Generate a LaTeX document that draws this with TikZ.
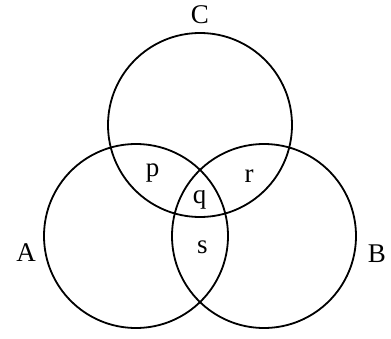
\documentclass[tikz,border=0pt]{standalone}
\usepackage{fontspec}
\setmainfont{Liberation Serif}
\usetikzlibrary{positioning}
\tikzset{
  setcirc/.style={draw, circle, line width=1.8pt, minimum size=184pt, inner sep=0pt},
  lbl/.style={font=\fontsize{27}{32}\selectfont, inner sep=0pt, anchor=base}
}

\begin{document}
\begin{tikzpicture}[x=1pt, y=1pt]
  \useasboundingbox (0,0) rectangle (391,338);
  % the three sets
  \node[setcirc] (setA) at (136,102) {};
  \node[setcirc] (setB) at (264,102) {};
  \node[setcirc] (setC) at (200,213) {};
  % set names
  \node[lbl] (nameA) at (26,77) {A};
  \node[lbl] (nameB) at (377,76) {B};
  \node[lbl, above=8pt of setC.north, anchor=south] (nameC) {C};
  % regions
  \node[lbl] (regp) at (152.5,161) {p};
  \node[lbl] (regr) at (249,156) {r};
  \node[lbl] (regq) at (199.5,135) {q};
  \node[lbl] (regs) at (202.5,85) {s};
\end{tikzpicture}
\end{document}
